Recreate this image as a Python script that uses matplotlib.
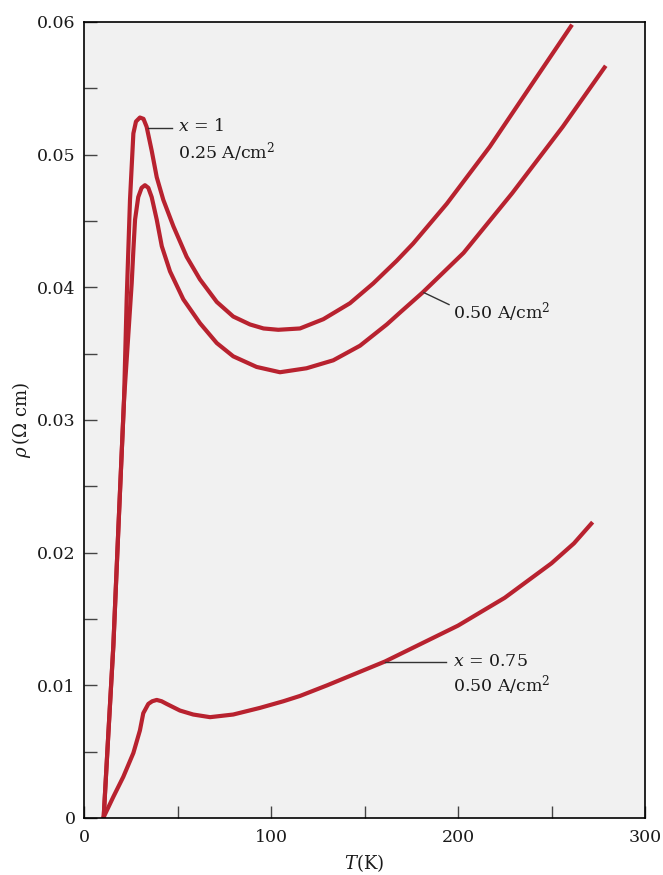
import matplotlib
matplotlib.use("Agg")
import matplotlib.pyplot as plt

plt.rcParams['font.family'] = ['DejaVu Serif']
plt.rcParams['mathtext.fontset'] = 'dejavuserif'

# x = 1, 0.25 A/cm^2
T_a = [10.5, 13, 15.7, 18.5, 21.4, 22.8, 23.7, 24.6, 25.5, 26.4, 27.8, 29.9, 31.8,
       33.5, 36.2, 38.9, 42.4, 47.8, 54.9, 62, 71, 79.8, 88.8, 96, 103.9, 115.5,
       128, 142.2, 154.7, 167.2, 176, 194, 217, 238.5, 261]
rho_a = [0, 0.0063, 0.0130, 0.0222, 0.0315, 0.0390, 0.0428, 0.0466, 0.0491, 0.0516,
         0.0525, 0.0528, 0.0527, 0.0521, 0.0503, 0.0483, 0.0466, 0.0446, 0.0423,
         0.0406, 0.0389, 0.0378, 0.0372, 0.0369, 0.0368, 0.0369, 0.0376, 0.0388,
         0.0403, 0.0420, 0.0433, 0.0463, 0.0506, 0.0551, 0.0598]

# x = 1, 0.50 A/cm^2
T_b = [10.5, 13, 15.7, 18.5, 21.4, 23.5, 25.5, 26.4, 27.3, 29.0, 30.8, 32.6, 34.4,
       36.2, 38.9, 41.6, 46.0, 53.1, 62, 71, 79.8, 92.3, 104.8, 119, 133.3, 147.6,
       161.9, 169, 181, 203, 229, 256, 279]
rho_b = [0, 0.0063, 0.0130, 0.0222, 0.0315, 0.0360, 0.0403, 0.0428, 0.0451, 0.0468,
         0.0475, 0.0477, 0.0475, 0.0468, 0.0451, 0.0431, 0.0412, 0.0391, 0.0373,
         0.0358, 0.0348, 0.0340, 0.0336, 0.0339, 0.0345, 0.0356, 0.0372, 0.0381,
         0.0396, 0.0426, 0.0471, 0.0521, 0.0567]

# x = 0.75, 0.50 A/cm^2
T_c = [10.3, 15.7, 21.0, 26.4, 29.9, 31.7, 34.4, 36.5, 38.9, 41.5, 44.2, 51.3,
       58.4, 67.4, 79.8, 94.1, 106.6, 115.5, 130, 161, 200, 225, 250, 262, 272]
rho_c = [0.0, 0.0016, 0.0031, 0.0049, 0.0066, 0.0079, 0.0086, 0.0088, 0.0089,
         0.0088, 0.0086, 0.0081, 0.0078, 0.0076, 0.0078, 0.0083, 0.0088, 0.0092,
         0.0100, 0.0118, 0.0145, 0.0166, 0.0192, 0.0207, 0.0223]

xticks = [0, 100, 200, 300]
yticks = [0, 0.01, 0.02, 0.03, 0.04, 0.05, 0.06]
yticklabels = ['0', '0.01', '0.02', '0.03', '0.04', '0.05', '0.06']

red = '#b8222f'
fig = plt.figure(figsize=(6.63, 8.75), dpi=100)
ax = fig.add_axes([84/663, 57/875, 561/663, 796/875])
ax.set_facecolor('#f1f1f1')

for T, r in [(T_a, rho_a), (T_b, rho_b), (T_c, rho_c)]:
    ax.plot(T, r, color=red, lw=3.0, solid_joinstyle='round', solid_capstyle='butt')

ax.set_xlim(0, 300)
ax.set_ylim(0, 0.06)
ax.set_xticks(xticks)
ax.set_xticks([50, 150, 250], minor=True)
ax.set_xticklabels([str(v) for v in xticks])
ax.set_yticks(yticks)
ax.set_yticks([0.005, 0.015, 0.025, 0.035, 0.045, 0.055], minor=True)
ax.set_yticklabels(yticklabels)
ax.tick_params(which='both', direction='in', length=9, width=1.0, color='#444444',
               labelsize=12.5, labelcolor='#1a1a1a')
ax.tick_params(axis='x', pad=8)
ax.tick_params(axis='y', pad=6)
for s in ax.spines.values():
    s.set_color('black')
    s.set_linewidth(1.2)

ax.set_xlabel(r'$T$(K)', fontsize=13, color='#1a1a1a', labelpad=4)
ax.set_ylabel(r'$\rho\,$(Ω cm)', fontsize=13, color='#1a1a1a', labelpad=3)

lc = '#333333'
fs = 12.5
# x = 1, 0.25
ax.plot([34.2, 47], [0.052, 0.052], color=lc, lw=1.0)
ax.text(50.3, 0.0521, r'$x$ = 1', fontsize=fs, va='center', ha='left', color='#1a1a1a')
ax.text(50.3, 0.0502, r'0.25 A/cm$^2$', fontsize=fs, va='center', ha='left', color='#1a1a1a')
# 0.50 upper
ax.plot([181.8, 195.2], [0.0396, 0.0387], color=lc, lw=1.0)
ax.text(197.3, 0.0381, r'0.50 A/cm$^2$', fontsize=fs, va='center', ha='left', color='#1a1a1a')
# x = 0.75
ax.plot([161, 193.6], [0.01176, 0.01176], color=lc, lw=1.0)
ax.text(197.3, 0.0118, r'$x$ = 0.75', fontsize=fs, va='center', ha='left', color='#1a1a1a')
ax.text(197.3, 0.0100, r'0.50 A/cm$^2$', fontsize=fs, va='center', ha='left', color='#1a1a1a')

fig.savefig('out.png', dpi=100)
